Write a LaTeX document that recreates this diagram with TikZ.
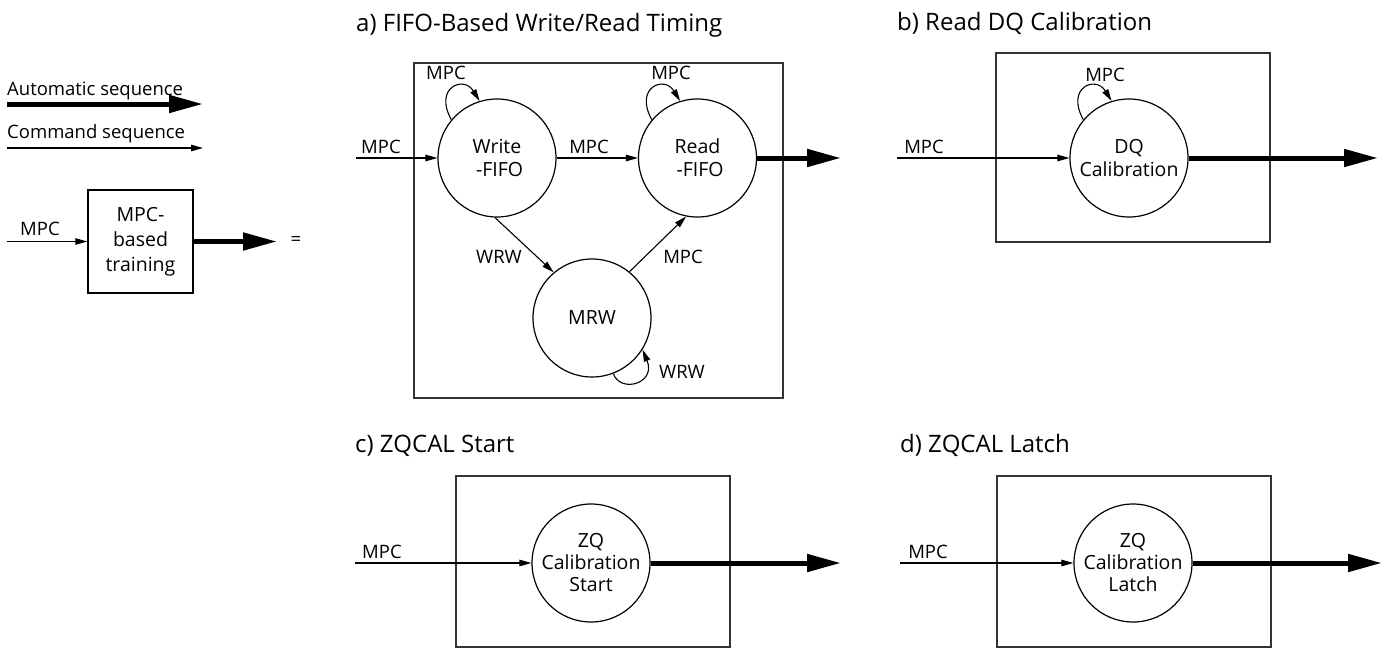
\documentclass[tikz,border=0pt]{standalone}
\usepackage{fontspec}
\setmainfont{Open Sans}
\usetikzlibrary{arrows.meta}
\begin{document}
\begin{tikzpicture}[x=1pt,y=-1pt,
  lbl/.style={font=\fontsize{18.5}{22}\selectfont, inner sep=0pt},
  state/.style={circle, draw, line width=1.2pt, minimum size=118pt, inner sep=0pt, align=center, font=\fontsize{19.5}{23}\selectfont},
  frame/.style={draw=black!80, line width=1.3pt, inner sep=0pt},
  cmd/.style={-{Triangle[length=12pt,width=6.5pt]}, line width=1.1pt},
  autoseq/.style={-{Triangle[length=34pt,width=17pt]}, line width=5pt},
  ttl/.style={font=\fontsize{24}{28}\selectfont, inner sep=0pt, anchor=base west}]
\useasboundingbox (0,0) rectangle (1389,648);

% ---------- legend ----------
\node[lbl, anchor=base west] (tauto) at (7,95) {Automatic sequence};
\coordinate (la1) at (7,104);
\coordinate (la2) at (203,104);
\draw[autoseq] (la1) -- (la2);
\node[lbl, anchor=base west] (tcmd) at (7,138) {Command sequence};
\coordinate (lc1) at (7,148);
\coordinate (lc2) at (203,148);
\draw[cmd] (lc1) -- (lc2);

\node[draw, line width=1.5pt, minimum width=105pt, minimum height=103pt, inner sep=0pt, align=center, font=\fontsize{19.5}{25}\selectfont] (lb) at (140.5,241.5) {MPC-\\based\\training};
\coordinate (lin) at (7,241.5);
\coordinate (lout) at (277,241.5);
\draw[cmd] (lin) -- (lb.west);
\node[lbl] (lmpc) at (40,229) {MPC};
\draw[autoseq] (lb.east) -- (lout);
\node[lbl] (eq) at (296,241.5) {=};

% ---------- a) ----------
\node[ttl] (ta) at (356,31) {a) FIFO-Based Write/Read Timing};
\node[frame, minimum width=369pt, minimum height=335pt] (fa) at (598.5,230.5) {};
\node[state] (w) at (497,158) {Write\\~-FIFO};
\node[state] (r) at (697.5,158) {Read\\~-FIFO};
\node[state] (m) at (592,318) {MRW};
\coordinate (ain) at (356,158);
\coordinate (aout) at (841,158);
\draw[cmd] (ain) -- (w.west);
\draw[cmd] (w.east) -- (r.west);
\draw[cmd] (w.-92) -- (m.130);
\draw[cmd] (m.51) -- (r.-101);
\draw[autoseq] (r.east) -- (aout);
\draw[cmd] (w.140) .. controls +(-18,-32) and +(-16,-26) .. (w.107);
\draw[cmd] (r.140) .. controls +(-18,-32) and +(-16,-26) .. (r.107);
\draw[cmd] (m.-69) .. controls +(7,20) and +(14,34) .. (m.-32);
\node[lbl] (a1) at (381,147) {MPC};
\node[lbl] (a2) at (589,147) {MPC};
\node[lbl] (a3) at (446,73) {MPC};
\node[lbl] (a4) at (671,73) {MPC};
\node[lbl] (a5) at (499,257) {WRW};
\node[lbl] (a6) at (683,257) {MPC};
\node[lbl] (a7) at (682,372) {WRW};

% ---------- b) ----------
\node[ttl] (tb) at (897,30) {b) Read DQ Calibration};
\node[frame, minimum width=274pt, minimum height=189pt] (fb) at (1133,147.5) {};
\node[state] (dq) at (1129,158) {DQ\\Calibration};
\coordinate (bin) at (897,158);
\coordinate (bout) at (1378,158);
\draw[cmd] (bin) -- (dq.west);
\draw[autoseq] (dq.east) -- (bout);
\draw[cmd] (dq.140) .. controls +(-18,-32) and +(-16,-26) .. (dq.107);
\node[lbl] (b1) at (924,147) {MPC};
\node[lbl] (b2) at (1105,75) {MPC};

% ---------- c) ----------
\node[ttl] (tc) at (355,452) {c) ZQCAL Start};
\node[frame, minimum width=274pt, minimum height=171pt] (fc) at (593,561.5) {};
\node[state, font=\fontsize{19.5}{22}\selectfont] (zs) at (591,563) {ZQ\\Calibration\\Start};
\coordinate (cin) at (355,563);
\coordinate (cout) at (841,563);
\draw[cmd] (cin) -- (zs.west);
\draw[autoseq] (zs.east) -- (cout);
\node[lbl] (c1) at (382,552) {MPC};

% ---------- d) ----------
\node[ttl] (td) at (900,452) {d) ZQCAL Latch};
\node[frame, minimum width=274pt, minimum height=171pt] (fd) at (1134,561.5) {};
\node[state, font=\fontsize{19.5}{22}\selectfont] (zl) at (1133,563) {ZQ\\Calibration\\Latch};
\coordinate (din) at (900,563);
\coordinate (dout) at (1382,563);
\draw[cmd] (din) -- (zl.west);
\draw[autoseq] (zl.east) -- (dout);
\node[lbl] (d1) at (928,552) {MPC};
\end{tikzpicture}
\end{document}
